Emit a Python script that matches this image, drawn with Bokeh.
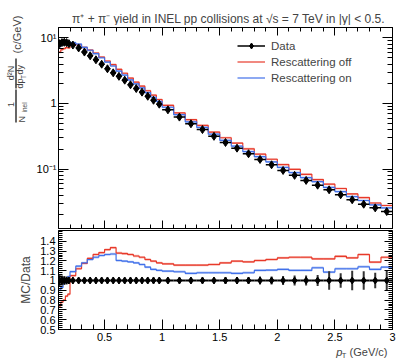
import numpy as np
from bokeh.plotting import figure
from bokeh.layouts import column, row
from bokeh.models import (Range1d, LinearAxis, LogAxis, FixedTicker, Label,
                          Legend, LegendItem)
from bokeh.embed import file_html
from bokeh.resources import INLINE

# ---------------- data ----------------
bin_edges = [0.10, 0.12, 0.14, 0.16, 0.18, 0.20, 0.25, 0.30, 0.35, 0.40, 0.45,
             0.50, 0.55, 0.60, 0.65, 0.70, 0.75, 0.80, 0.85, 0.90, 0.95, 1.00,
             1.10, 1.20, 1.30, 1.40, 1.50, 1.60, 1.70, 1.80, 1.90, 2.00, 2.10,
             2.20, 2.30, 2.40, 2.50, 2.60, 2.70, 2.80, 2.90, 3.00]

data_yield = [8.2, 8.5, 8.6, 8.5, 8.2,
              7.8, 7.05, 6.1, 5.35, 4.65, 3.98, 3.39, 2.94, 2.6, 2.27, 1.93,
              1.69, 1.49, 1.29, 1.12, 0.976,
              0.80, 0.62, 0.49, 0.40, 0.315, 0.254, 0.208, 0.171, 0.140, 0.116,
              0.095, 0.080, 0.067, 0.0566, 0.0481, 0.0404, 0.0339, 0.029,
              0.0255, 0.0224]

data_rel_err = [0.06, 0.05, 0.045, 0.04, 0.035,
                0.03, 0.03, 0.03, 0.03, 0.03, 0.03, 0.03, 0.03, 0.03, 0.03,
                0.03, 0.03, 0.03, 0.03, 0.03, 0.03,
                0.03, 0.03, 0.03, 0.03, 0.03, 0.035, 0.035, 0.035, 0.04, 0.04,
                0.045, 0.05, 0.05, 0.055, 0.095, 0.075, 0.10, 0.095, 0.08, 0.10]

ratio_off = [0.74, 0.78, 0.80, 0.84, 0.86,
             1.05, 1.12, 1.175, 1.225, 1.265, 1.285, 1.315, 1.335, 1.28, 1.275,
             1.265, 1.25, 1.237, 1.214, 1.197, 1.18,
             1.17, 1.157, 1.157, 1.157, 1.163, 1.18, 1.197, 1.19, 1.204, 1.214,
             1.23, 1.237, 1.237, 1.22, 1.22, 1.247, 1.23, 1.265, 1.187, 1.237]

ratio_on = [0.90, 0.93, 0.97, 1.00, 1.04,
            1.09, 1.146, 1.18, 1.214, 1.237, 1.255, 1.265, 1.27, 1.204, 1.197,
            1.19, 1.18, 1.163, 1.136, 1.113, 1.103,
            1.096, 1.089, 1.073, 1.079, 1.079, 1.079, 1.073, 1.079, 1.103, 1.106,
            1.113, 1.103, 1.103, 1.13, 1.086, 1.12, 1.12, 1.14, 1.113, 1.136]

mc_band = 0.012  # half width of the MC uncertainty band (relative)

legend_labels = ["Data", "Rescattering off", "Rescattering on"]
title_text = "π⁺ + π⁻ yield in INEL pp collisions at √s = 7 TeV in |y| < 0.5."
ratio_axis_title = "MC/Data"

x_major = [0.5, 1.0, 1.5, 2.0, 2.5, 3.0]
x_labels = {1.0: "1", 2.0: "2", 3.0: "3"}
y_log_major = [0.1, 1.0, 10.0]
y_log_labels = {0.1: "10⁻¹", 1.0: "1", 10.0: "10¹"}
y_ratio_major = [0.5, 0.6, 0.7, 0.8, 0.9, 1.0, 1.1, 1.2, 1.3, 1.4]
y_ratio_labels = {1.0: "1"}

# ---------------- derived arrays ----------------
edges = np.array(bin_edges)
lo, hi = edges[:-1], edges[1:]
ctr = 0.5 * (lo + hi)
dat = np.array(data_yield)
derr = np.array(data_rel_err)
r_off = np.array(ratio_off)
r_on = np.array(ratio_on)
mc_off = r_off * dat
mc_on = r_on * dat
ones = dat / dat

FONT = "Liberation Sans"
RED, RED_L = "#e8392a", "#f5a89e"
BLUE, BLUE_L = "#4070ea", "#a8bdf3"

x_minor = [float(v) for v in np.round(np.arange(0.1, 3.001, 0.1), 2)]
y_log_minor = [m * 10.0 ** k for k in (-2, -1, 0, 1) for m in range(2, 10)]
y_ratio_minor = [float(v) for v in np.round(np.arange(0.5, 1.521, 0.02), 2)]

COMMON = dict(output_backend="svg", toolbar_location=None)


def style(ax, labels=True, major_in=8, minor_in=4):
    ax.axis_line_color = "black"
    ax.major_tick_line_color = "black"
    ax.minor_tick_line_color = "black"
    ax.major_tick_in = major_in
    ax.major_tick_out = 0
    ax.minor_tick_in = minor_in
    ax.minor_tick_out = 0
    ax.major_label_text_font = FONT
    ax.major_label_text_color = "black"
    if labels:
        ax.major_label_text_font_size = "11px"
        ax.major_label_standoff = 3
    else:
        ax.major_label_text_font_size = "1px"
        ax.major_label_text_alpha = 0
        ax.major_label_standoff = 0


def strip(w, h, x0, y0):
    """blank figure whose data coordinates equal page pixels (for titles)"""
    f = figure(width=w, height=h, x_range=Range1d(x0, x0 + w), y_range=Range1d(y0 + h, y0),
               x_axis_location=None, y_axis_location=None, min_border=0,
               outline_line_color=None, **COMMON)
    f.grid.visible = False
    return f


def lab(f, x, y, t, size, align="center", angle=0.0, fstyle="normal"):
    f.add_layout(Label(x=x, y=y, text=t, angle=angle, text_font=FONT,
                       text_font_size=size, text_font_style=fstyle,
                       text_align=align, text_baseline="middle"))


# ---------------- title strip ----------------
tfig = strip(368, 25, 30, 0)
lab(tfig, 390, 18, title_text, "12px", "right")

# ---------------- left strip: y-axis title of the spectrum ----------------
lfig = strip(30, 230, 0, 0)
R = np.pi / 2
lab(lfig, 10.5, 104, "1", "9px", angle=R)
lab(lfig, 21, 122, "N", "9px", "left", R)
lab(lfig, 23.5, 112, "inel", "6.5px", "left", R)
lab(lfig, 10.5, 72.5, "d²N", "9px", angle=R)
lab(lfig, 19.5, 88, "dp", "9px", "left", R)
lab(lfig, 22.5, 78.5, "T", "6.5px", "left", R)
lab(lfig, 19.5, 74, "dy", "9px", "left", R)
lab(lfig, 16, 34, "(c/GeV)", "11px", angle=R)
lfig.segment(x0=[15.5, 15.5], x1=[15.5, 15.5], y0=[89, 58], y1=[122, 88],
             line_color="black", line_width=1.2)

# ---------------- top panel ----------------
top = figure(width=368, height=205, x_range=Range1d(0.1, 3.0),
             y_range=Range1d(0.01235, 14.46), y_axis_type="log",
             min_border_left=28, min_border_right=6, min_border_top=2,
             min_border_bottom=2, outline_line_color="black", **COMMON)
top.grid.visible = False

top.xaxis.ticker = FixedTicker(ticks=x_major, minor_ticks=x_minor)
style(top.xaxis[0], labels=False)
top.yaxis.ticker = FixedTicker(ticks=y_log_major, minor_ticks=y_log_minor)
top.yaxis.major_label_overrides = y_log_labels
style(top.yaxis[0], labels=True, major_in=10, minor_in=5)
top.yaxis.major_label_standoff = 2

ax_t = LinearAxis(ticker=FixedTicker(ticks=x_major, minor_ticks=x_minor))
style(ax_t, labels=False)
top.add_layout(ax_t, "above")
ax_r = LogAxis(ticker=FixedTicker(ticks=y_log_major, minor_ticks=y_log_minor))
style(ax_r, labels=False, major_in=10, minor_in=5)
top.add_layout(ax_r, "right")

top.quad(left=lo, right=hi, bottom=mc_off * (1 - 3 * mc_band), top=mc_off * (1 + 3 * mc_band),
         fill_color=RED_L, fill_alpha=0.8, line_color=None)
top.quad(left=lo, right=hi, bottom=mc_on * (1 - 3 * mc_band), top=mc_on * (1 + 3 * mc_band),
         fill_color=BLUE_L, fill_alpha=0.8, line_color=None)
s_off = top.step(x=edges, y=np.append(mc_off, mc_off[-1]), mode="after",
                 line_color=RED, line_width=1.2)
s_on = top.step(x=edges, y=np.append(mc_on, mc_on[-1]), mode="after",
                line_color=BLUE, line_width=1.2)
top.segment(x0=ctr, x1=ctr, y0=dat * (1 - derr), y1=dat * (1 + derr),
            line_color="black", line_width=1.5)
h_dat = top.segment(x0=lo, x1=hi, y0=dat, y1=dat, line_color="black", line_width=1.5)
p_dat = top.scatter(x=ctr, y=dat, marker="diamond", size=8, color="black")

legend = Legend(items=[LegendItem(label=legend_labels[0], renderers=[h_dat, p_dat]),
                       LegendItem(label=legend_labels[1], renderers=[s_off]),
                       LegendItem(label=legend_labels[2], renderers=[s_on])],
                location=(179, 143), background_fill_alpha=0, border_line_alpha=0,
                label_text_font=FONT, label_text_font_size="11.5px",
                glyph_width=28, glyph_height=15, label_height=15,
                label_standoff=6, spacing=1, padding=0, margin=0)
top.add_layout(legend)

# ---------------- ratio panel ----------------
bot = figure(width=398, height=115, x_range=top.x_range, y_range=Range1d(0.5, 1.51),
             min_border_left=58, min_border_right=6, min_border_top=0,
             min_border_bottom=16, outline_line_color="black", **COMMON)
bot.grid.visible = False
bot.xaxis.ticker = FixedTicker(ticks=x_major, minor_ticks=x_minor)
bot.xaxis.major_label_overrides = x_labels
style(bot.xaxis[0], labels=True, major_in=10, minor_in=5)
bot.yaxis.ticker = FixedTicker(ticks=y_ratio_major, minor_ticks=y_ratio_minor)
bot.yaxis.major_label_overrides = y_ratio_labels
style(bot.yaxis[0], labels=True, major_in=8, minor_in=4)
bot.yaxis.axis_label = ratio_axis_title
bot.yaxis.axis_label_text_font = FONT
bot.yaxis.axis_label_text_font_size = "12px"
bot.yaxis.axis_label_text_font_style = "normal"
bot.yaxis.axis_label_standoff = 4
ax_r2 = LinearAxis(ticker=FixedTicker(ticks=y_ratio_major, minor_ticks=y_ratio_minor))
style(ax_r2, labels=False)
bot.add_layout(ax_r2, "right")

bot.quad(left=lo, right=hi, bottom=r_off - mc_band, top=r_off + mc_band,
         fill_color=RED_L, fill_alpha=0.8, line_color=None)
bot.quad(left=lo, right=hi, bottom=r_on - mc_band, top=r_on + mc_band,
         fill_color=BLUE_L, fill_alpha=0.8, line_color=None)
bot.step(x=edges, y=np.append(r_off, r_off[-1]), mode="after", line_color=RED, line_width=1.2)
bot.step(x=edges, y=np.append(r_on, r_on[-1]), mode="after", line_color=BLUE, line_width=1.2)
bot.segment(x0=ctr, x1=ctr, y0=ones - derr, y1=ones + derr, line_color="#333333", line_width=2)
bot.segment(x0=lo, x1=hi, y0=ones, y1=ones, line_color="black", line_width=1.8)
bot.scatter(x=ctr, y=ones, marker="diamond", size=7, color="black")

# ---------------- x-axis title strip ----------------
xfig = strip(398, 16, 0, 345)
lab(xfig, 331, 351.5, "p", "11px", "left", fstyle="italic")
lab(xfig, 337.5, 355, "T", "7.5px", "left")
lab(xfig, 392, 351.5, "(GeV/c)", "11px", "right")

layout = column(row(lfig, column(tfig, top, spacing=0), spacing=0), bot, xfig, spacing=0)
open("out.html", "w").write(file_html(layout, INLINE))
